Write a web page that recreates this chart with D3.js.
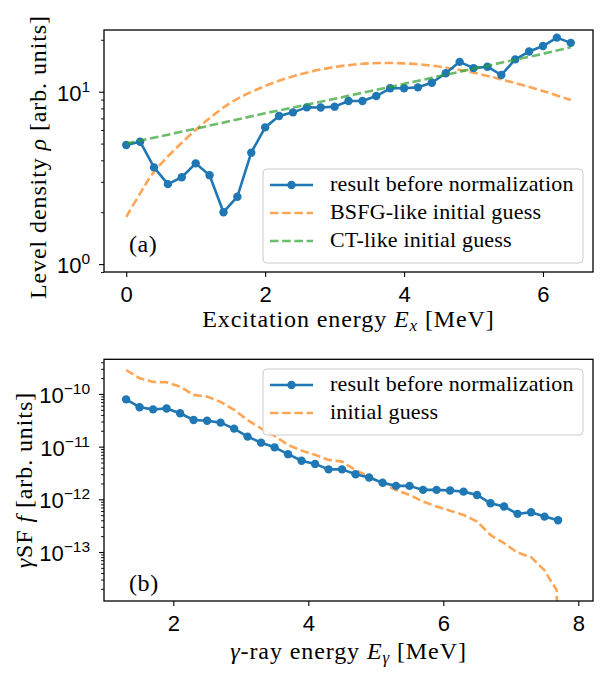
<!DOCTYPE html>
<html>
<head>
<meta charset="utf-8">
<script src="https://cdn.jsdelivr.net/npm/d3@7"></script>
<style>
  body { margin: 0; background: #fff; }
  svg { display: block; font-family: "Liberation Serif", "DejaVu Serif", serif; }
</style>
</head>
<body>
<script>
// Data:
// (a) level density
const exResult = [0, 0.2, 0.4, 0.6, 0.8, 1.0, 1.2, 1.4, 1.6, 1.8, 2.0, 2.2, 2.4, 2.6, 2.8, 3.0,
  3.2, 3.4, 3.6, 3.8, 4.0, 4.2, 4.4, 4.6, 4.8, 5.0, 5.2, 5.4, 5.6, 5.8, 6.0, 6.2, 6.4];
const rhoResult = [4.91, 5.13, 3.64, 2.91, 3.19, 3.84, 3.28, 2.0, 2.46, 4.43, 6.21, 7.23, 7.59, 8.11,
  8.1, 8.19, 8.83, 8.83, 9.44, 10.47, 10.47, 10.6, 11.27, 12.8, 14.9, 13.7, 13.97, 12.5, 15.4,
  17.1, 18.4, 20.6, 19.2];
const exBsfg = [0, 0.2, 0.4, 1.0, 1.5, 2.0, 2.5, 3.0, 3.5, 4.0, 4.5, 5.0, 5.5, 6.0, 6.4];
const rhoBsfg = [1.88, 2.57, 3.43, 6.0, 8.6, 10.8, 12.6, 13.9, 14.6, 14.6, 14.0, 12.9, 11.5, 10.1, 8.95];
const exCt = [0, 1, 2, 3, 4, 5, 6, 6.4];
const rhoCt = [5.0, 6.1, 7.5, 9.1, 11.1, 13.6, 16.6, 18.1];

// (b) gamma strength function
const egResult = [1.3, 1.5, 1.7, 1.9, 2.1, 2.3, 2.5, 2.7, 2.9, 3.1, 3.3, 3.5, 3.7, 3.9, 4.1, 4.3,
  4.5, 4.7, 4.9, 5.1, 5.3, 5.5, 5.7, 5.9, 6.1, 6.3, 6.5, 6.7, 6.9, 7.1, 7.3, 7.5, 7.7];
const gsfResult = [7.9e-11, 5.6e-11, 5.1e-11, 5.3e-11, 4.3e-11, 3.2e-11, 3.1e-11, 2.86e-11, 2.2e-11,
  1.55e-11, 1.19e-11, 9.7e-12, 7.2e-12, 5.4e-12, 4.7e-12, 3.7e-12, 3.7e-12, 3.0e-12, 2.6e-12,
  2.07e-12, 1.8e-12, 1.8e-12, 1.51e-12, 1.51e-12, 1.47e-12, 1.4e-12, 1.21e-12, 8.4e-13, 7.3e-13,
  5.3e-13, 5.7e-13, 4.7e-13, 4.0e-13];
const egGuess = [1.3, 1.5, 1.7, 1.9, 2.1, 2.3, 2.5, 2.7, 2.9, 3.1, 3.3, 3.5, 3.7, 3.9, 4.1, 4.3,
  4.5, 4.7, 4.9, 5.1, 5.3, 5.5, 5.7, 5.9, 6.1, 6.3, 6.5, 6.7, 6.9, 7.1, 7.3, 7.5, 7.58, 7.68, 7.7];
const gsfGuess = [2.85e-10, 1.99e-10, 1.69e-10, 1.67e-10, 1.38e-10, 9.6e-11, 8.9e-11, 7.1e-11, 5.0e-11,
  3.2e-11, 2.23e-11, 1.6e-11, 1.08e-11, 8.4e-12, 7.0e-12, 5.6e-12, 5.2e-12, 3.6e-12, 2.7e-12,
  2.02e-12, 1.5e-12, 1.21e-12, 9.1e-13, 7.3e-13, 6.1e-13, 5.06e-13, 3.8e-13, 2.1e-13, 1.47e-13,
  9.7e-14, 8.0e-14, 4.5e-14, 3.0e-14, 1.9e-14, 1e-16];

// Ticks:
const xTicksA = [0, 2, 4, 6];
const yTicksA = [1, 10];
const yExpA = [0, 1];
const xTicksB = [2, 4, 6, 8];
const yTicksB = [1e-10, 1e-11, 1e-12, 1e-13];
const yExpB = [-10, -11, -12, -13];

const blue = "#1f77b4";
const orange = "#ff7f0e";
const green = "#2ca02c";

// Canvas:
const svg = d3.select("body").append("svg").attr("width", 600).attr("height", 675);
svg.append("rect").attr("width", 600).attr("height", 675).attr("fill", "#fff");

const boxA = { left: 104, right: 593, top: 30, bottom: 272 };
const boxB = { left: 104, right: 593, top: 359.3, bottom: 601 };

const xA = d3.scaleLinear().domain([-0.32, 6.72]).range([boxA.left, boxA.right]);
const yA = d3.scaleLog().domain([0.9, 22.8]).range([boxA.bottom, boxA.top]);
const xB = d3.scaleLinear().domain([0.973, 8.218]).range([boxB.left, boxB.right]);
const yB = d3.scaleLog().domain([1.175e-14, 4.55e-10]).range([boxB.bottom, boxB.top]);

function minorTicks(scale) {
  const [lo, hi] = scale.domain();
  const out = [];
  for (let e = Math.floor(Math.log10(lo)); e <= Math.ceil(Math.log10(hi)); e++) {
    for (let m = 2; m <= 9; m++) {
      const v = m * Math.pow(10, e);
      if (v >= lo && v <= hi) out.push(v);
    }
  }
  return out;
}

function drawAxes(box, x, y, xTicks, yTicks, yExp, name) {
  // clip for data
  svg.append("clipPath").attr("id", "clip-" + name)
    .append("rect")
    .attr("x", box.left).attr("y", box.top)
    .attr("width", box.right - box.left).attr("height", box.bottom - box.top);

  const gx = svg.append("g")
    .attr("transform", `translate(0, ${box.bottom})`)
    .call(d3.axisBottom(x).tickValues(xTicks).tickSize(5).tickPadding(9).tickFormat(d3.format("d")));
  gx.select(".domain").remove();
  gx.selectAll("line").attr("stroke", "#000").attr("stroke-width", 1.1);
  gx.selectAll("text").attr("font-size", 22).attr("font-family", null).attr("fill", "#000");

  // minor y ticks
  const gm = svg.append("g")
    .attr("transform", `translate(${box.left}, 0)`)
    .call(d3.axisLeft(y).tickValues(minorTicks(y)).tickSize(3).tickFormat(""));
  gm.select(".domain").remove();
  gm.selectAll("line").attr("stroke", "#000").attr("stroke-width", 0.9);

  const gy = svg.append("g")
    .attr("transform", `translate(${box.left}, 0)`)
    .call(d3.axisLeft(y).tickValues(yTicks).tickSize(5).tickPadding(9).tickFormat(""));
  gy.select(".domain").remove();
  gy.selectAll("line").attr("stroke", "#000").attr("stroke-width", 1.1);
  gy.selectAll("text")
    .attr("font-size", 22).attr("font-family", null).attr("fill", "#000")
    .attr("dy", "0.38em")
    .each(function (d, i) {
      const t = d3.select(this);
      t.append("tspan").text("10");
      t.append("tspan").attr("dy", -9).attr("font-size", 15.5)
        .text(yExp[i] < 0 ? "\u2212" + Math.abs(yExp[i]) : String(yExp[i]));
    });
}

function drawFrame(box) {
  svg.append("rect")
    .attr("x", box.left).attr("y", box.top)
    .attr("width", box.right - box.left).attr("height", box.bottom - box.top)
    .attr("fill", "none").attr("stroke", "#000").attr("stroke-width", 1.3);
}

function drawLegend(x0, y0, w, rows) {
  const h = rows.length * 28 + 10;
  const g = svg.append("g");
  g.append("rect")
    .attr("x", x0).attr("y", y0).attr("width", w).attr("height", h)
    .attr("rx", 4).attr("fill", "#fff").attr("fill-opacity", 0.8)
    .attr("stroke", "#cccccc").attr("stroke-width", 1);
  rows.forEach((r, i) => {
    const cy = y0 + 16 + i * 28;
    g.append("line")
      .attr("x1", x0 + 7).attr("x2", x0 + 50).attr("y1", cy).attr("y2", cy)
      .attr("stroke", r.color).attr("stroke-width", 2.6)
      .attr("stroke-opacity", r.dash ? 0.7 : 1)
      .attr("stroke-dasharray", r.dash ? "8.5,3.7" : null);
    if (r.marker) {
      g.append("circle").attr("cx", x0 + 28.5).attr("cy", cy).attr("r", 4.2).attr("fill", r.color);
    }
    g.append("text")
      .attr("x", x0 + 67).attr("y", cy + 6)
      .attr("font-size", 22).attr("letter-spacing", 0.2)
      .text(r.label);
  });
}

// Panel (a):
drawAxes(boxA, xA, yA, xTicksA, yTicksA, yExpA, "a");

const lineA = d3.line().x((d) => xA(d[0])).y((d) => yA(d[1]));
const lineSmoothA = d3.line().curve(d3.curveCatmullRom).x((d) => xA(d[0])).y((d) => yA(d[1]));

svg.append("path")
  .datum(d3.zip(exBsfg, rhoBsfg))
  .attr("clip-path", "url(#clip-a)")
  .attr("d", lineSmoothA)
  .attr("fill", "none").attr("stroke", orange).attr("stroke-opacity", 0.7)
  .attr("stroke-width", 2.6).attr("stroke-dasharray", "8.5,3.7");

svg.append("path")
  .datum(d3.zip(exResult, rhoResult))
  .attr("d", lineA)
  .attr("fill", "none").attr("stroke", blue).attr("stroke-width", 2.6)
  .attr("stroke-linejoin", "round");
svg.selectAll("circle.dotA")
  .data(d3.zip(exResult, rhoResult))
  .enter()
  .append("circle")
  .attr("class", "dotA")
  .attr("cx", (d) => xA(d[0])).attr("cy", (d) => yA(d[1]))
  .attr("r", 4.2).attr("fill", blue);

svg.append("path")
  .datum(d3.zip(exCt, rhoCt))
  .attr("clip-path", "url(#clip-a)")
  .attr("d", lineA)
  .attr("fill", "none").attr("stroke", green).attr("stroke-opacity", 0.7)
  .attr("stroke-width", 2.6).attr("stroke-dasharray", "8.5,3.7");

drawLegend(263, 169, 320, [
  { label: "result before normalization", color: blue, marker: true },
  { label: "BSFG-like initial guess", color: orange, dash: true },
  { label: "CT-like initial guess", color: green, dash: true }
]);
drawFrame(boxA);

svg.append("text").attr("x", 129).attr("y", 252).attr("font-size", 24).attr("letter-spacing", 0.6).text("(a)");

// Axis labels (a):
const labA = svg.append("text")
  .attr("x", (boxA.left + boxA.right) / 2).attr("y", 327)
  .attr("text-anchor", "middle").attr("font-size", 24).attr("letter-spacing", 0.9);
labA.append("tspan").text("Excitation energy ");
labA.append("tspan").attr("font-style", "italic").text("E");
labA.append("tspan").attr("font-style", "italic").attr("font-size", 17).attr("dy", 4).text("x");
labA.append("tspan").attr("dy", -4).text(" [MeV]");

const ylabA = svg.append("text")
  .attr("transform", `translate(46, ${(boxA.top + boxA.bottom) / 2 + 6}) rotate(-90)`)
  .attr("text-anchor", "middle").attr("font-size", 24).attr("letter-spacing", 0.9);
ylabA.append("tspan").text("Level density ");
ylabA.append("tspan").attr("font-style", "italic").text("\u03c1");
ylabA.append("tspan").text(" [arb. units]");

// Panel (b):
drawAxes(boxB, xB, yB, xTicksB, yTicksB, yExpB, "b");

const lineB = d3.line().x((d) => xB(d[0])).y((d) => yB(d[1]));

svg.append("path")
  .datum(d3.zip(egGuess, gsfGuess))
  .attr("clip-path", "url(#clip-b)")
  .attr("d", lineB)
  .attr("fill", "none").attr("stroke", orange).attr("stroke-opacity", 0.7)
  .attr("stroke-width", 2.6).attr("stroke-dasharray", "8.5,3.7");

svg.append("path")
  .datum(d3.zip(egResult, gsfResult))
  .attr("d", lineB)
  .attr("fill", "none").attr("stroke", blue).attr("stroke-width", 2.6)
  .attr("stroke-linejoin", "round");
svg.selectAll("circle.dotB")
  .data(d3.zip(egResult, gsfResult))
  .enter()
  .append("circle")
  .attr("class", "dotB")
  .attr("cx", (d) => xB(d[0])).attr("cy", (d) => yB(d[1]))
  .attr("r", 4.2).attr("fill", blue);

drawLegend(263, 369, 320, [
  { label: "result before normalization", color: blue, marker: true },
  { label: "initial guess", color: orange, dash: true }
]);
drawFrame(boxB);

svg.append("text").attr("x", 129).attr("y", 591).attr("font-size", 24).attr("letter-spacing", 0.6).text("(b)");

// Axis labels (b):
const labB = svg.append("text")
  .attr("x", (boxB.left + boxB.right) / 2).attr("y", 659)
  .attr("text-anchor", "middle").attr("font-size", 24).attr("letter-spacing", 0.9);
labB.append("tspan").attr("font-style", "italic").text("\u03b3");
labB.append("tspan").text("-ray energy ");
labB.append("tspan").attr("font-style", "italic").text("E");
labB.append("tspan").attr("font-style", "italic").attr("font-size", 17).attr("dy", 4).text("\u03b3");
labB.append("tspan").attr("dy", -4).text(" [MeV]");

const ylabB = svg.append("text")
  .attr("transform", `translate(32, ${(boxB.top + boxB.bottom) / 2}) rotate(-90)`)
  .attr("text-anchor", "middle").attr("font-size", 24).attr("letter-spacing", 0.9);
ylabB.append("tspan").attr("font-style", "italic").text("\u03b3");
ylabB.append("tspan").text("SF ");
ylabB.append("tspan").attr("font-style", "italic").text("f");
ylabB.append("tspan").text(" [arb. units]");
</script>
</body>
</html>
